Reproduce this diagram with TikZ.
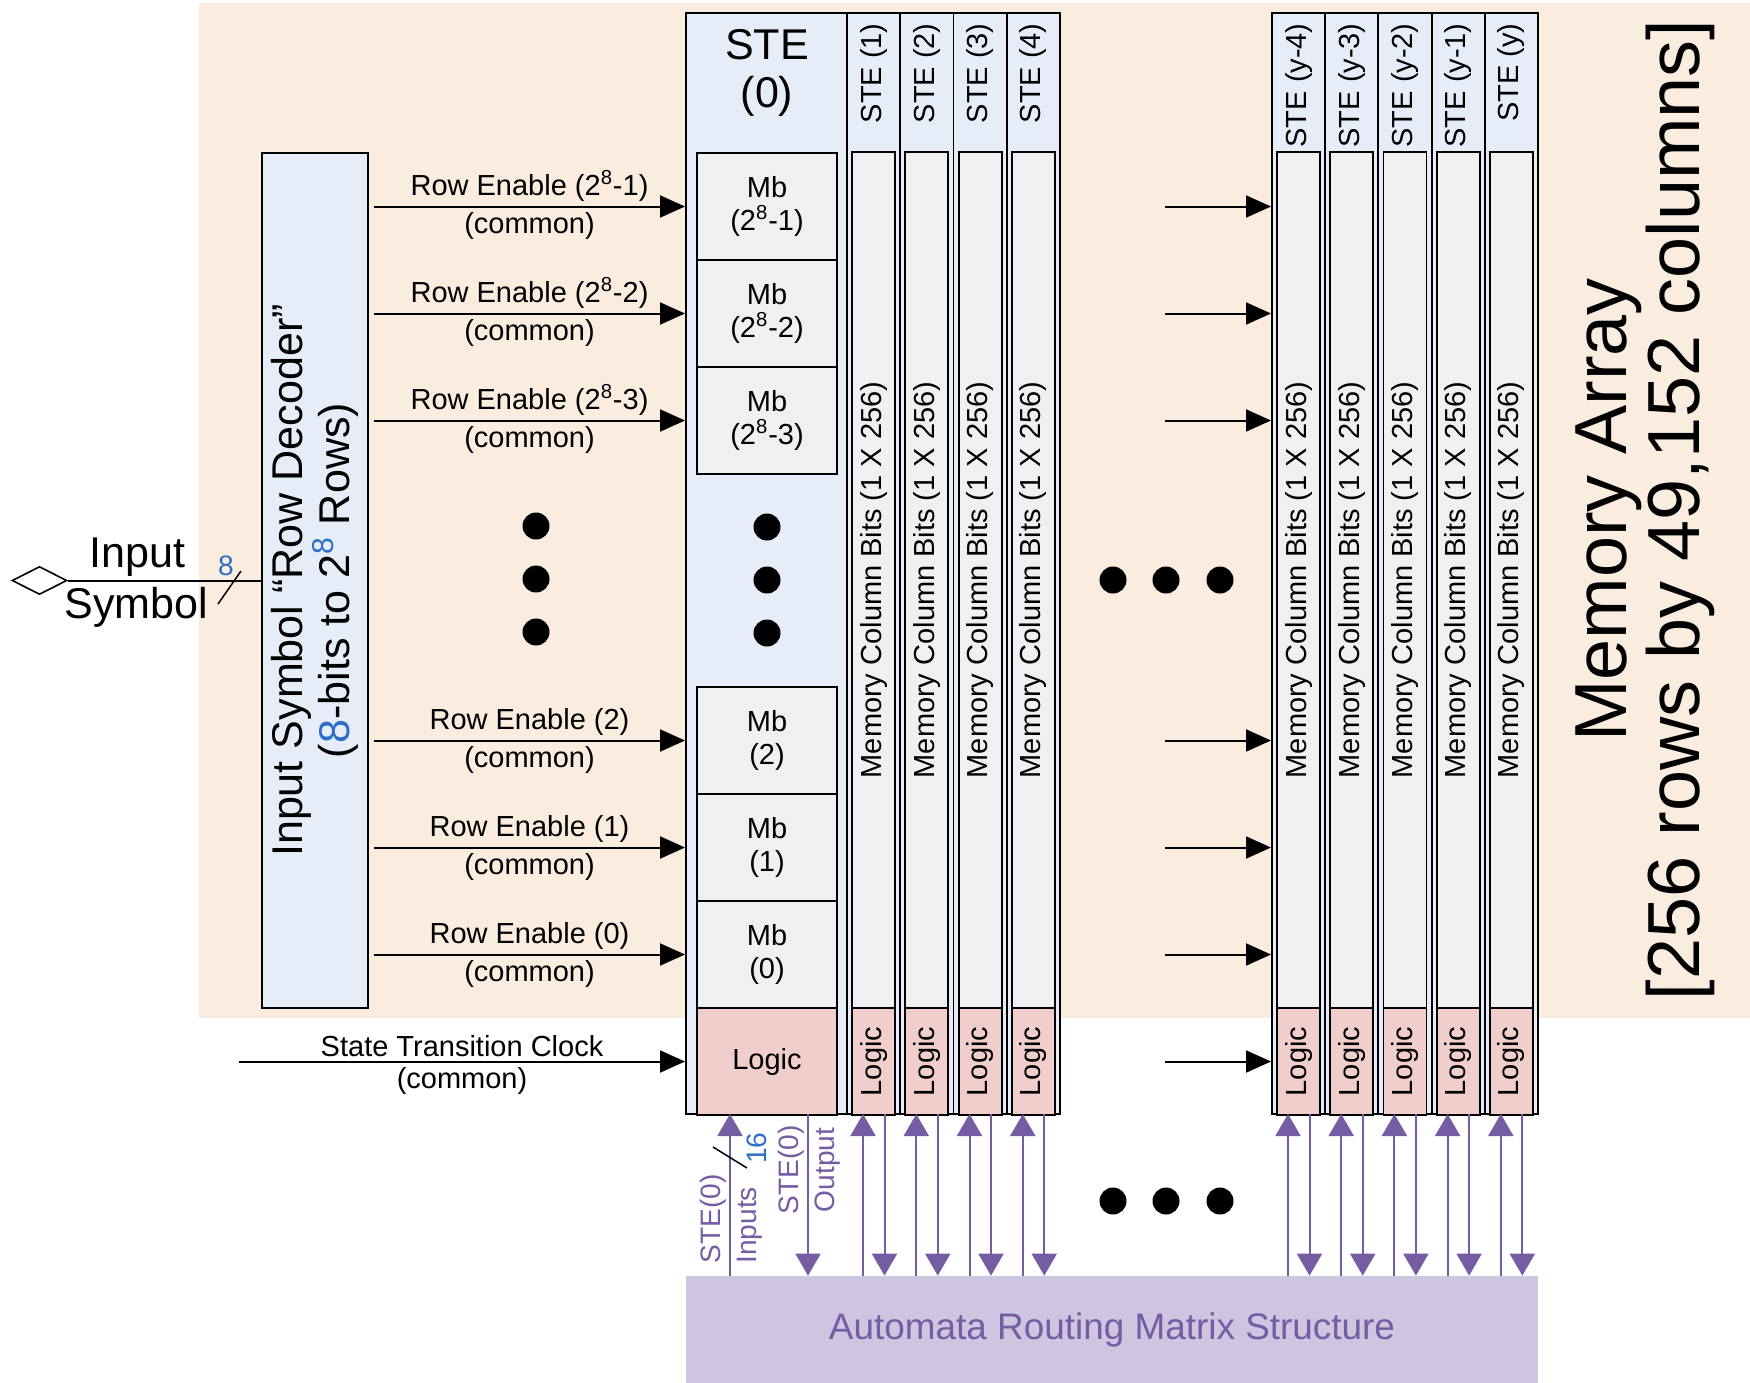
\documentclass[tikz,border=0pt]{standalone}
\usepackage{fontspec}
\setmainfont{Liberation Sans}
\usetikzlibrary{calc,arrows.meta,shapes.geometric,positioning}
\definecolor{arrayPeach}{RGB}{251,236,224}
\definecolor{steBlue}{RGB}{230,237,249}
\definecolor{bitGray}{RGB}{240,240,240}
\definecolor{logicPink}{RGB}{240,206,203}
\definecolor{routeFill}{RGB}{206,197,225}
\definecolor{routePurple}{RGB}{117,92,163}
\definecolor{numBlue}{RGB}{45,110,200}

\begin{document}
\begin{tikzpicture}[x=0.2mm,y=-0.2mm,
  every node/.style={font=\fontsize{16.5}{18.5}\selectfont,inner sep=0pt},
  box/.style={draw,line width=1.1pt},
  stecol/.style={box,fill=steBlue,minimum height=220.2mm},
  mbbox/.style={box,fill=bitGray,minimum width=28mm,minimum height=21.4mm,align=center},
  bitbar/.style={box,fill=bitGray,rotate=90,minimum width=171.2mm,minimum height=8.6mm},
  logicbar/.style={box,fill=logicPink,rotate=90,minimum width=21.4mm,minimum height=8.6mm},
  rowarrow/.style={line width=0.4mm,-{Triangle[length=5mm,width=4.4mm]}},
  busarrow/.style={routePurple,line width=0.4mm,-{Triangle[length=4.4mm,width=5mm]}}]
  \useasboundingbox (0,0) rectangle (1750,1383);
  \fill[arrayPeach](199,3) rectangle (1750,1018);

  \node[box,fill=steBlue,rotate=90,minimum width=171mm,minimum height=21.2mm,align=center,
        font=\fontsize{24.5}{26.7}\selectfont] (dec) at (315,580.5)
    {Input Symbol “Row Decoder”\\(\textcolor{numBlue}{8}-bits to 2\textsuperscript{\textcolor{numBlue}{8}} Rows)};
  \node[diamond,draw,line width=0.9pt,fill=white,minimum width=11mm,minimum height=5.6mm] (insym) at (39.5,580.5) {};
  \draw[line width=0.4mm] (insym.east) -- (dec.north);
  \node[anchor=base,font=\fontsize{24.5}{26}\selectfont] (inlbl) at (137.5,567) {Input};
  \node[anchor=base,font=\fontsize{24.5}{26}\selectfont] (symlbl) at (136.5,618) {Symbol};
  \draw[line width=0.3mm] (218,604) -- (241,571);
  \node[numBlue,font=\fontsize{16}{16}\selectfont] (inwidth) at (226,566) {8};

  \node[fill=routeFill,minimum width=170.4mm,minimum height=21.4mm,text=routePurple,
        font=\fontsize{21}{21}\selectfont] (route) at (1112,1329.5) {Automata Routing Matrix Structure};

  \node[stecol,minimum width=32.2mm] (col0) at (766.5,563.5) {};
  \node[align=center,font=\fontsize{24.5}{27}\selectfont] (ste0) at (767,73) {STE\\(0)};
  \foreach \i/\x/\lbl in {1/847/1, 2/900.25/2, 3/953.5/3, 4/1006.75/4,
                          Y4/1272/y-4, Y3/1325.2/y-3, Y2/1378.4/y-2, Y1/1431.6/y-1, Y0/1484.8/y}{
    \node[stecol,minimum width=10.65mm] (col\i) at (\x+26.6,563.5) {};
    \node[anchor=east,rotate=90] (ste\i) at (\x+26.6,23) {STE (\lbl)};
    \node[bitbar] (bits\i) at (\x+26.6,580) {Memory Column Bits (1 X 256)};
    \node[logicbar] (logic\i) at (\x+26.6,1061.5) {Logic};
    \coordinate (up\i) at (\x+16,1114);
    \coordinate (dn\i) at (\x+37.5,1114);
    \draw[busarrow] (up\i |- route.north) -- (up\i);
    \draw[busarrow] (dn\i) -- (dn\i |- route.north);
  }

  \foreach \nm/\yc/\tx in {mbA/206.5/2\textsuperscript{8}-1, mbB/313.5/2\textsuperscript{8}-2,
                           mbC/420.5/2\textsuperscript{8}-3, mbD/740.5/2, mbE/847.5/1, mbF/954.5/0}{
    \node[mbbox] (\nm) at (767,\yc) {Mb\\(\tx)};
    \coordinate (\nm-in) at (374,\yc);
    \coordinate (\nm-far) at (1165,\yc);
    \draw[rowarrow] (\nm-in) -- (col0.west |- \nm-in)
      node[midway,above=0.8mm]{Row Enable (\tx)} node[midway,below=1mm]{(common)};
    \draw[rowarrow] (\nm-far) -- (colY4.west |- \nm-far);
  }

  \node[mbbox,fill=logicPink] (logic0) at (767,1061.5) {Logic};
  \coordinate (clk) at (239,1061.5);
  \coordinate (clkfar) at (1165,1061.5);
  \draw[rowarrow] (clk) -- (col0.west |- clk)
    node[midway,above=0.8mm]{State Transition Clock} node[midway,below=1mm]{(common)};
  \draw[rowarrow] (clkfar) -- (colY4.west |- clkfar);

  \coordinate (up0) at (730,1114);
  \coordinate (dn0) at (808,1114);
  \draw[busarrow] (up0 |- route.north) -- (up0);
  \draw[busarrow] (dn0) -- (dn0 |- route.north);
  \draw[line width=0.3mm] (713,1147) -- (747,1168);
  \node[numBlue,rotate=90,font=\fontsize{16}{16}\selectfont] (buswidth) at (757,1148) {16};
  \node[routePurple,rotate=90,anchor=west,align=left,font=\fontsize{16}{20.5}\selectfont] (inlbl0) at (731.5,1264) {STE(0)\\Inputs};
  \node[routePurple,rotate=90,align=center,font=\fontsize{16}{20.5}\selectfont] (outlbl0) at (809,1170) {STE(0)\\Output};

  \foreach \y in {526,579,632}{
    \fill (536,\y) circle (13.5);
    \fill (767,\y+1) circle (13.5);
  }
  \foreach \x in {1113,1166,1220}{
    \fill (\x,580) circle (13.5);
    \fill (\x,1201) circle (13.5);
  }

  \node[rotate=90,align=center,font=\fontsize{42}{41.5}\selectfont] (arrayname) at (1645,510)
    {Memory Array\\{}[256 rows by 49,152 columns]};
\end{tikzpicture}
\end{document}
